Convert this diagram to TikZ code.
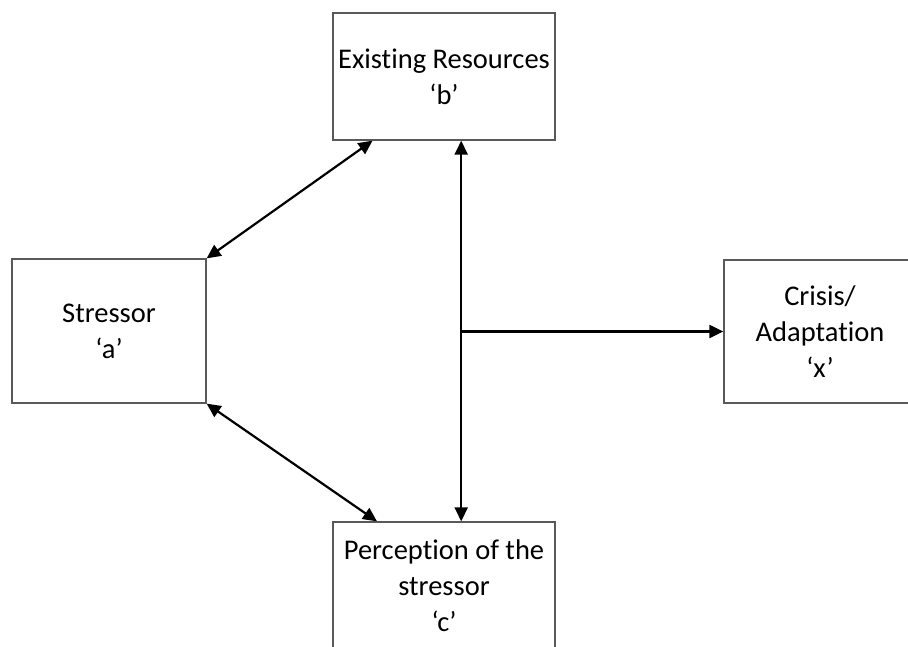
\documentclass[tikz,border=0pt]{standalone}
\usepackage{fontspec}
\setmainfont{Carlito}[Ligatures={TeX,NoCommon}]
\usetikzlibrary{arrows.meta,positioning,calc}

\begin{document}
\begin{tikzpicture}[x=1pt,y=-1pt,
    box/.style={draw=black!65,line width=1.3pt,fill=white,align=center,
                font=\fontsize{28.5}{36}\selectfont,inner sep=0pt},
    twoway/.style={{Triangle[length=14pt,width=13pt]}-{Triangle[length=14pt,width=13pt]},
                   line width=2.2pt},
    oneway/.style={-{Triangle[length=14pt,width=13pt]},line width=2.2pt}]
  \clip (0,0) rectangle (908,646);
  \fill[white] (0,0) rectangle (908,646);
  \node[box,minimum width=222pt,minimum height=127pt] (res) at (444,76.5)
       {Existing Resources\\‘b’};
  \node[box,minimum width=194pt,minimum height=144pt] (stress) at (109,331)
       {Stressor\\‘a’};
  \node[box,minimum width=192pt,minimum height=143pt] (crisis) at (820,331.5)
       {Crisis/\\Adaptation\\‘x’};
  \node[box,minimum width=222pt,minimum height=127pt] (percep) at (444,585.5)
       {Perception of the\\stressor\\‘c’};
  % links between the boxes
  \coordinate (resfoot) at ($(res.south west)!0.18!(res.south east)$);
  \coordinate (perchead) at ($(percep.north west)!0.2!(percep.north east)$);
  \coordinate (restop) at ($(res.south west)!0.577!(res.south east)$);
  \coordinate (percbot) at ($(percep.north west)!0.577!(percep.north east)$);
  \coordinate (hub) at (restop |- crisis.west);
  \draw[twoway] (resfoot) -- (stress.north east);
  \draw[twoway] (stress.south east) -- (perchead);
  \draw[twoway] (restop) -- (percbot);
  \draw[oneway] (hub) -- (crisis.west);
\end{tikzpicture}
\end{document}
